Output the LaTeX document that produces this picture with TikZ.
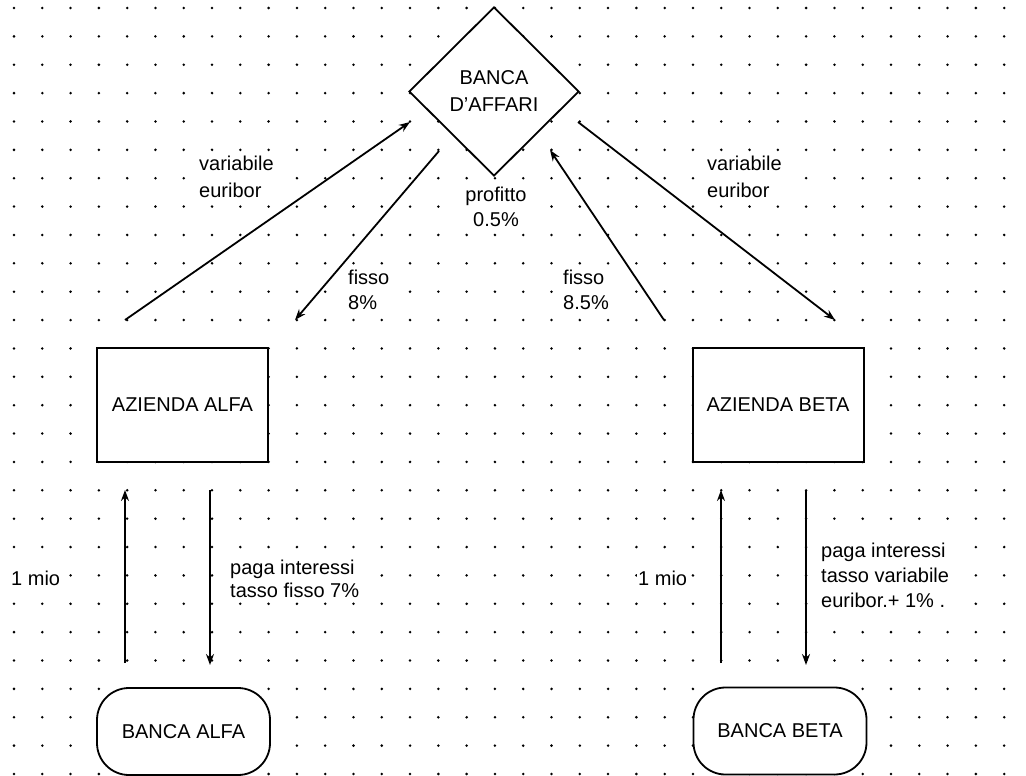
\documentclass[tikz,border=0pt]{standalone}
\usepackage{fontspec}
\setmainfont{Liberation Sans}
\usetikzlibrary{shapes.geometric,arrows.meta}
\begin{document}
\begin{tikzpicture}[x=1pt,y=-1pt,
  every node/.style={font=\fontsize{20}{25}\selectfont},
  box/.style={draw,line width=2pt,fill=white,minimum width=171pt,minimum height=114pt,inner sep=0},
  bank/.style={draw,line width=1.8pt,fill=white,rounded corners=32pt,minimum width=173pt,minimum height=87pt,inner sep=0},
  hub/.style={draw,diamond,line width=1.8pt,fill=white,minimum width=170pt,minimum height=169pt,inner sep=0,align=center},
  lbl/.style={fill=white,inner sep=1pt,align=left,anchor=west},
  flow/.style={line width=1.8pt,-{Stealth[length=11pt,width=8pt]}},
  griddot/.style={fill=black},
]
\useasboundingbox (0,0) rectangle (1026,776);
\fill[white] (0,0) rectangle (1026,776);
\foreach \i in {0,...,35} \foreach \j in {0,...,27} \fill[griddot] ({14+28.29*\i},{8+28.37*\j}) circle (1.4pt);

% nodes
\node[hub] (ba) at (494,91.5) {BANCA\\[2pt]D'AFFARI};
\node[box] (aa) at (182.5,405) {AZIENDA ALFA};
\node[box] (ab) at (778,404.5) {AZIENDA BETA};
\node[bank] (bka) at (183.5,731.5) {BANCA ALFA};
\node[bank] (bkb) at (780,731) {BANCA BETA};

% free ends of connectors
\coordinate (a1s) at (125,320);
\coordinate (a1e) at (410,122);
\coordinate (a2s) at (439,151);
\coordinate (a2e) at (295,320);
\coordinate (a3s) at (664,320);
\coordinate (a3e) at (550,150);
\coordinate (a4s) at (578,122);
\coordinate (a4e) at (835,320);
\coordinate (v1s) at (125,663);
\coordinate (v1e) at (125,490);
\coordinate (v2s) at (210,490);
\coordinate (v2e) at (210,665);
\coordinate (v3s) at (721,663);
\coordinate (v3e) at (721,490);
\coordinate (v4s) at (806,490);
\coordinate (v4e) at (806,665);

% labels
\node[lbl] (l1) at (198,176.5) {variabile\\[2pt]euribor};
\node[lbl] (l2) at (347,290) {fisso\\8\%};
\node[lbl] (l3) at (706,176.5) {variabile\\[2pt]euribor};
\node[lbl] (l4) at (562,290) {fisso\\8.5\%};
\node[fill=white,inner sep=1pt,align=center] (l5) at (496,207) {profitto\\0.5\%};
\node[lbl] (l6) at (10,578) {1 mio};
\node[lbl] (l7) at (637,578) {1 mio};
\node[lbl] (l8) at (229,579) {paga interessi\\[-2pt]tasso fisso 7\%};
\node[lbl] (l9) at (820,575) {paga interessi\\tasso variabile\\euribor.+ 1\% .};

% connectors
\draw[flow] (a1s) -- (a1e);
\draw[flow] (a2s) -- (a2e);
\draw[flow] (a3s) -- (a3e);
\draw[flow] (a4s) -- (a4e);
\draw[flow] (v1s) -- (v1e);
\draw[flow] (v2s) -- (v2e);
\draw[flow] (v3s) -- (v3e);
\draw[flow] (v4s) -- (v4e);
\end{tikzpicture}
\end{document}
